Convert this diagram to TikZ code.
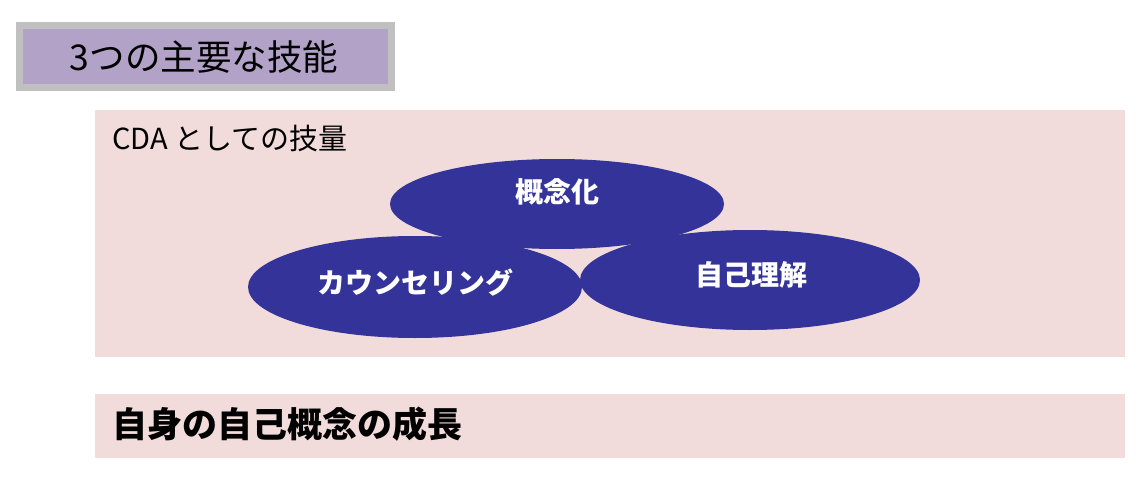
\documentclass[tikz,border=0pt]{standalone}
\usepackage{fontspec}
\newfontfamily\jp{Noto Sans CJK JP}
\usetikzlibrary{shapes.geometric}
\definecolor{titlefill}{HTML}{B3A2C7}
\definecolor{titleborder}{HTML}{C0C0C0}
\definecolor{pinkbg}{HTML}{F2DCDB}
\definecolor{ellblue}{HTML}{333399}
\tikzset{
  ell/.style={ellipse, fill=ellblue, draw=none, inner sep=0pt},
  elltext/.style={text=white, font=\jp\bfseries\fontsize{28}{32}\selectfont},
  pinkbox/.style={fill=pinkbg, draw=none},
}
\begin{document}
\begin{tikzpicture}[x=1pt,y=-1pt]
\useasboundingbox (0,0) rectangle (1148,492);
% title
\fill[titleborder] (16,22) rectangle (395,91);
\fill[titlefill] (23,29) rectangle (388,84);
\node[font=\jp\fontsize{35.5}{40}\selectfont, anchor=center] (title) at (204,57) {3つの主要な技能};
% pink boxes
\fill[pinkbox] (95,110) rectangle (1125,357);
\fill[pinkbox] (95,394) rectangle (1125,458);
\node[font=\jp\fontsize{29}{34}\selectfont, anchor=west, inner sep=0pt] (cda) at (112,138) {CDA としての技量};
\node[font=\jp\bfseries\fontsize{35}{40}\selectfont, anchor=west, inner sep=0pt] (growth) at (112,424) {自身の自己概念の成長};
% ellipses
\fill[ellblue] (557,204) ellipse [x radius=167, y radius=45];
\fill[ellblue] (415,287) ellipse [x radius=167, y radius=51];
\fill[ellblue] (750,280) ellipse [x radius=170, y radius=50];
\node[elltext] (concept) at (557,192) {概念化};
\node[elltext] (counsel) at (415,283) {カウンセリング};
\node[elltext] (self) at (751,275) {自己理解};
\end{tikzpicture}
\end{document}
